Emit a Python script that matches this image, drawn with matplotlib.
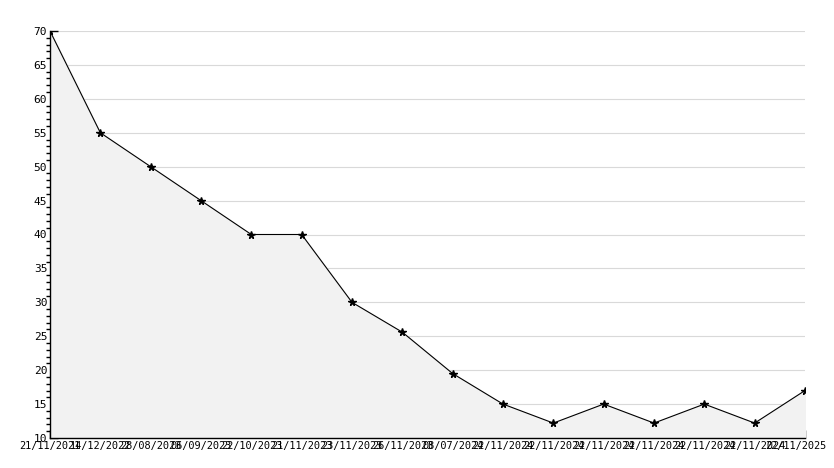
import matplotlib
matplotlib.use('Agg')
import matplotlib.pyplot as plt
import matplotlib.transforms as mtransforms
from matplotlib.ticker import MultipleLocator


dates = ['21/11/2021', '14/12/2022', '28/08/2023', '06/09/2023', '22/10/2023',
         '21/11/2023', '23/11/2023', '26/11/2023', '08/07/2024', '22/11/2024',
         '22/11/2024', '22/11/2024', '22/11/2024', '22/11/2024', '22/11/2024',
         '22/11/2025']
values = [70, 55, 50, 45, 40, 40, 30, 25.6, 19.5, 15, 12.2, 15, 12.2, 15, 12.2, 17]

plt.rcParams['font.family'] = 'DejaVu Sans Mono'

fig = plt.figure(figsize=(8.34, 4.68), dpi=100)
ax = fig.add_axes([50 / 834, 30 / 468, 755 / 834, 407 / 468])

x = list(range(len(values)))
ax.fill_between(x, values, 10, color='#f2f2f2', zorder=1)
ax.plot(x, values, color='black', linewidth=0.8, marker='*', markersize=5.5, zorder=3)

ax.set_xlim(0, len(values) - 1)
ax.set_ylim(10, 70)
ax.yaxis.set_major_locator(MultipleLocator(5))
ax.yaxis.set_minor_locator(MultipleLocator(1))
ax.grid(axis='y', color='#d9d9d9', linewidth=0.8, zorder=0)
ax.set_axisbelow(True)

ax.set_xticks(x)
ax.set_xticklabels(dates)
ax.tick_params(axis='both', direction='in', colors='black', labelsize=7.4, pad=2, width=1)
ax.tick_params(axis='y', which='major', length=6, labelsize=8)
ax.tick_params(axis='y', which='minor', length=3, width=1)
ax.tick_params(axis='x', length=6)

# keep the last date inside the picture, as the reference does
last = ax.get_xticklabels()[-1]
last.set_horizontalalignment('right')
last.set_transform(last.get_transform() + mtransforms.ScaledTranslation(0.21, 0, fig.dpi_scale_trans))

ax.spines['top'].set_visible(False)
ax.spines['right'].set_visible(False)
ax.spines['left'].set_linewidth(1)
ax.spines['bottom'].set_linewidth(1)

fig.savefig('out.png', dpi=100)
